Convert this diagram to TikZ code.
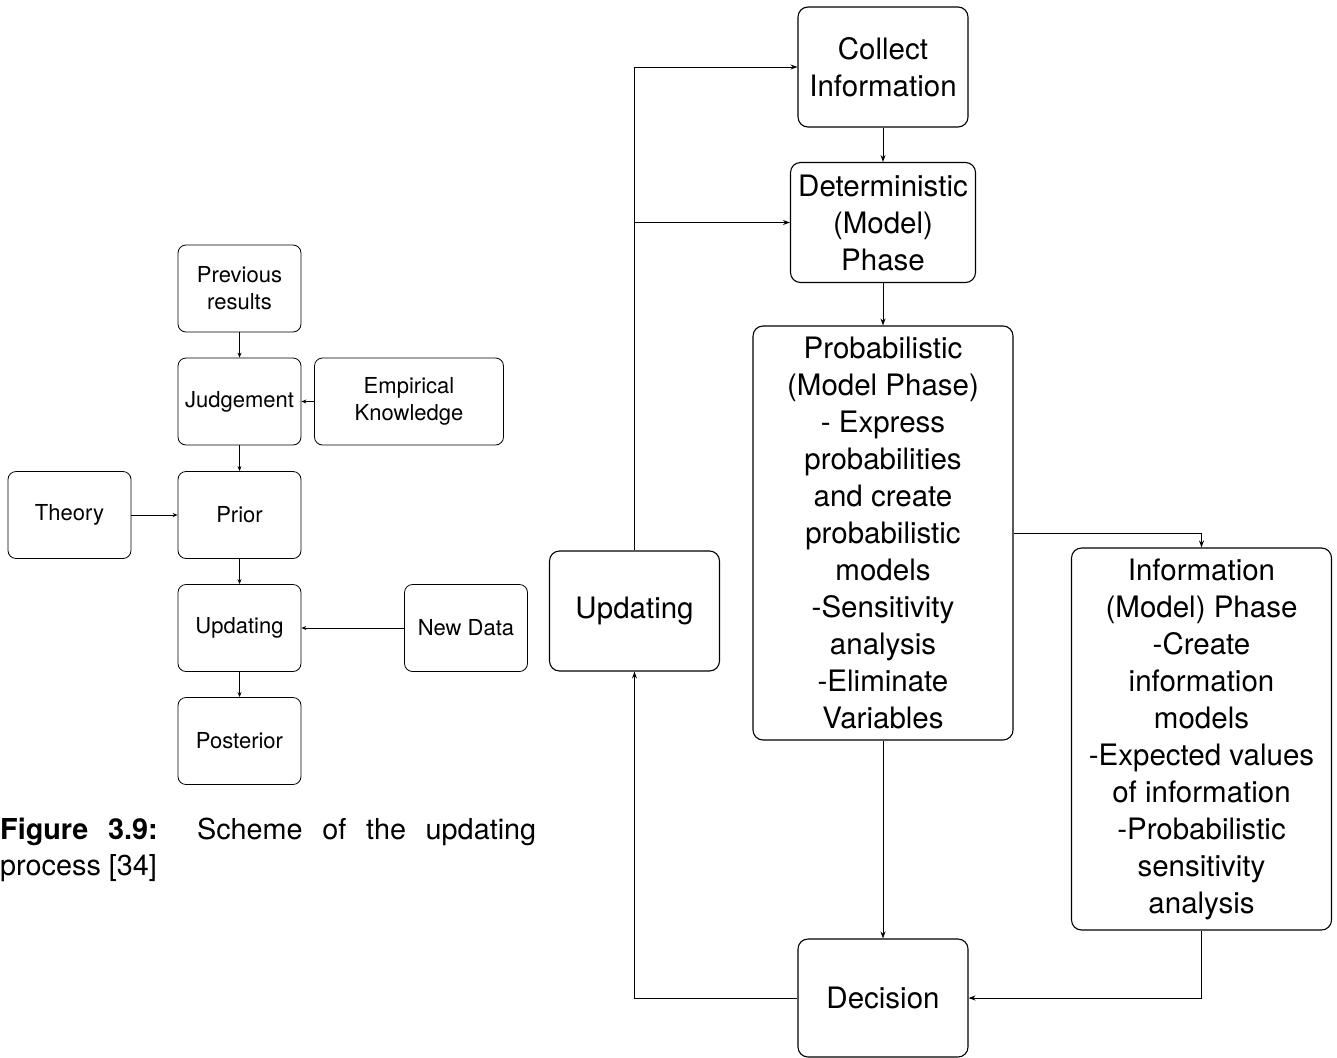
\documentclass[tikz,border=0pt]{standalone}
\usepackage{fontspec}
\setmainfont{TeX Gyre Heros}
\usepackage{tikz}
\usetikzlibrary{arrows.meta}

\begin{document}
\begin{tikzpicture}[x=1pt,y=-1pt]
\useasboundingbox (0,0) rectangle (1337,1057);

% updating scheme
\begin{scope}[every node/.style={draw,thick,rounded corners=8pt,align=center,
              minimum width=123pt,minimum height=87pt,
              font=\fontsize{22}{27}\selectfont}]
    \node (prev) at (239.5,288.5) {Previous\\results};
    \node (judg) at (239.5,401.5) {Judgement};
    \node[minimum width=189pt] (emp) at (409,401.5) {Empirical\\Knowledge};
    \node (theory) at (69.5,515) {Theory};
    \node (prior) at (239.5,515) {Prior};
    \node (upd) at (239.5,628) {Updating};
    \node (newdata) at (466,628) {New Data};
    \node (post) at (239.5,741) {Posterior};
\end{scope}

\begin{scope}[>={Stealth[length=5pt,width=4pt]},
              every path/.style={draw=black,line width=0.9pt}]
    \path [->] (prev) edge (judg);
    \path [->] (emp) edge (judg);
    \path [->] (judg) edge (prior);
    \path [->] (theory) edge (prior);
    \path [->] (prior) edge (upd);
    \path [->] (newdata) edge (upd);
    \path [->] (upd) edge (post);
\end{scope}

\node[anchor=north west,inner sep=0pt,text width=536pt,align=justify,
      font=\fontsize{28.8}{35.5}\selectfont]
      (cap) at (0,818) {\textbf{Figure 3.9:}\ \ Scheme of the updating\linebreak process [34]};

% decision cycle
\begin{scope}[every node/.style={draw,line width=1.1pt,rounded corners=10pt,align=center,
              minimum width=170pt,minimum height=120pt,inner sep=2pt,
              font=\fontsize{29.5}{37}\selectfont}]
    \node (collect) at (883,67) {Collect\\Information};
    \node[minimum width=185pt] (det) at (883,222.5) {Deterministic\\(Model)\\Phase};
    \node[minimum width=260pt,minimum height=414pt] (prob) at (883,533)
        {Probabilistic\\(Model Phase)\\- Express\\probabilities\\and create\\probabilistic\\models\\-Sensitivity\\analysis\\-Eliminate\\Variables};
    \node[minimum width=260pt,minimum height=382pt] (info) at (1201.5,739)
        {Information\\(Model) Phase\\-Create\\information\\models\\-Expected values\\of information\\-Probabilistic\\sensitivity\\analysis};
    \node[minimum height=118pt] (dec) at (883,998) {Decision};
    \node (upd2) at (634.5,611) {Updating};
\end{scope}

\coordinate (fork) at (upd2.north |- det.west);

\begin{scope}[>={Stealth[length=7pt,width=5pt]},
              every path/.style={draw=black,line width=1pt}]
    \path [->] (collect) edge (det);
    \path [->] (det) edge (prob);
    \path [->] (prob) edge (dec);
    \draw [->] (prob.east) -| (info.north);
    \draw [->] (info.south) |- (dec.east);
    \draw [->] (dec.west) -| (upd2.south);
    \draw [->] (upd2.north) |- (collect.west);
    \draw [->] (fork) -- (det.west);
\end{scope}
\end{tikzpicture}
\end{document}
